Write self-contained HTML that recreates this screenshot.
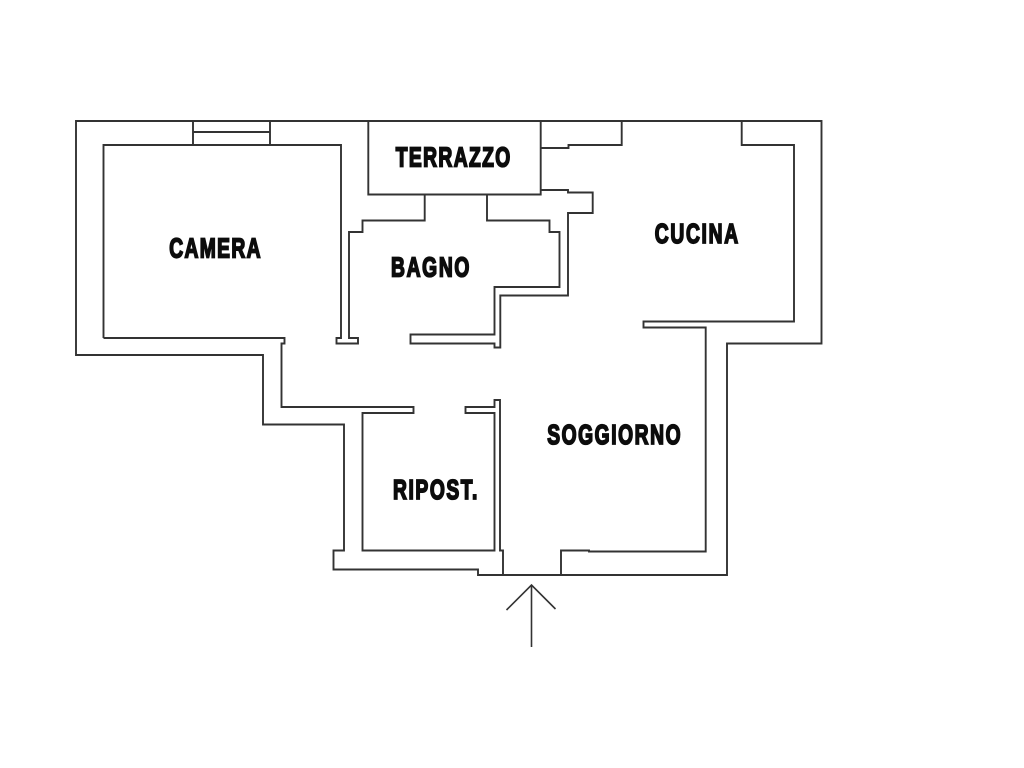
<!DOCTYPE html>
<html>
<head>
<meta charset="utf-8">
<style>
html,body{margin:0;padding:0;background:#fff}
svg{display:block}
text{font-family:"Liberation Sans",sans-serif;font-weight:bold;font-size:27.5px;fill:#0c0c0c;stroke:#0c0c0c;stroke-width:1.8px}
.w{fill:none;stroke:#333;stroke-width:1.9;stroke-linejoin:miter}
</style>
</head>
<body>
<svg width="1024" height="768" viewBox="0 0 1024 768" xmlns="http://www.w3.org/2000/svg">
<rect width="1024" height="768" fill="#fff"/>
<!-- outer wall -->
<path class="w" d="M76 121H821.5V343.5H727V575H478V569.5H333.5V550.5H344V424.5H263V355H76Z"/>
<!-- camera + bagno left -->
<path class="w" d="M103.5 338V145H341V338H336.5V343.5H358V338H349V232H362.5V220.5H424.7V194.5"/>
<path class="w" d="M103.5 338H284.5V343.5H281.5V407H413.5V413H362.5V550.5H494.5V413H465.5V407H494.5V400H500V550.5H503V575"/>
<!-- window -->
<path class="w" d="M193 121V145M270 121V145M193 132H270"/>
<!-- terrazzo -->
<path class="w" d="M368.3 121V194.5H540.7V121"/>
<!-- bagno right -->
<path class="w" d="M487 194.5V220.5H549.5V232H559.5V287H494.5V334.5H410.5V343.5H494.5V347.5H500.3V295.5H568V213H592.7V192.5H568V190H540.7"/>
<!-- upper kitchen stubs -->
<path class="w" d="M540.7 148H568.5V145H621.7V121"/>
<!-- cucina -->
<path class="w" d="M741.7 121V145H794V321.5H643.5V327.5H705.7V551.5H589V550.5H561V575"/>
<!-- entry arrow -->
<path d="M531.5 647V585M506.5 610L531.5 585L555.5 609" fill="none" stroke="#333" stroke-width="1.6"/>
<!-- labels -->
<text transform="translate(169.2 257.5) scale(.7 1)" textLength="130.5" lengthAdjust="spacing">CAMERA</text>
<text transform="translate(395.8 166.5) scale(.7 1)" textLength="163.5" lengthAdjust="spacing">TERRAZZO</text>
<text transform="translate(391 276.5) scale(.7 1)" textLength="112" lengthAdjust="spacing">BAGNO</text>
<text transform="translate(654.8 243) scale(.7 1)" textLength="119" lengthAdjust="spacing">CUCINA</text>
<text transform="translate(547.2 444) scale(.7 1)" textLength="190.5" lengthAdjust="spacing">SOGGIORNO</text>
<text transform="translate(393 499) scale(.7 1)" textLength="120.5" lengthAdjust="spacing">RIPOST.</text>
</svg>
</body>
</html>
